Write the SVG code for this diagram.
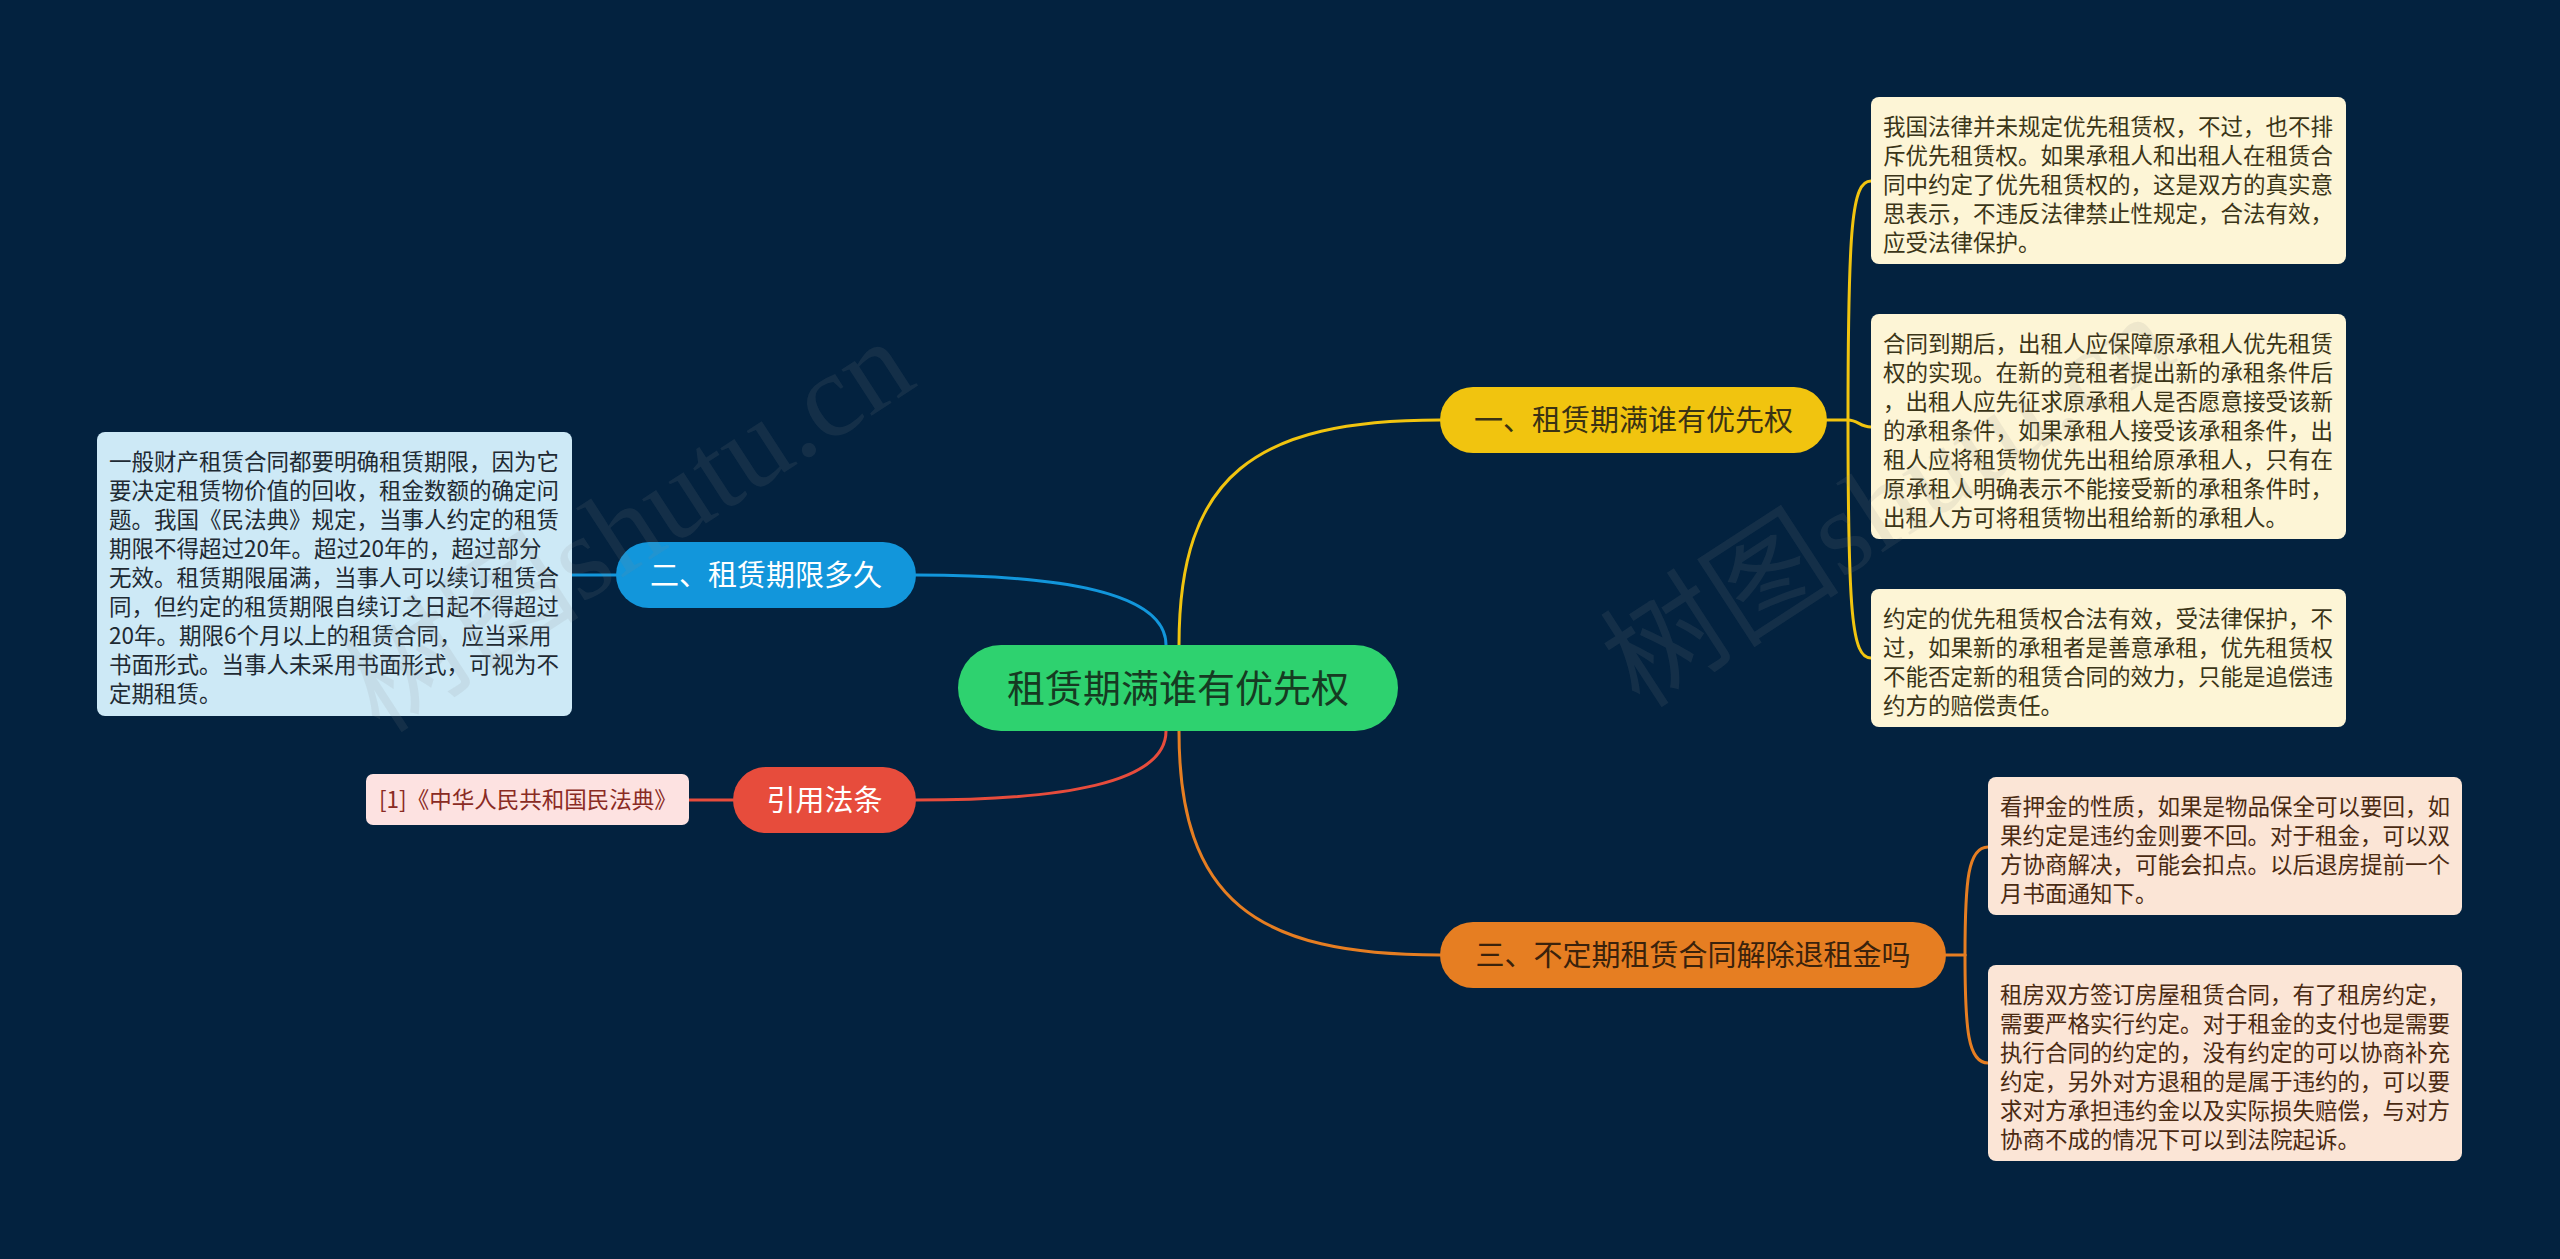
<svg xmlns="http://www.w3.org/2000/svg" width="2560" height="1259" viewBox="0 0 2560 1259">
<style>
.bg{fill:#03223f}
.leaf text, .pill text, .root text{font-family:"Noto Sans CJK SC","Noto Sans",sans-serif}
.leaf text{font-size:22.5px}
.pill text{font-size:29px;text-anchor:middle}
.ly rect{fill:#fdf5d6}
.ly text{fill:#3b3518}
.lo rect{fill:#fbe5d6}
.lo text{fill:#4a2a12}
.lb rect{fill:#cde9f6}
.lb text{fill:#1e2a33}
.lr rect{fill:#fde2e1}
.lr text{fill:#8a2b24}
.conn path{fill:none;stroke-width:3;stroke-linecap:round}
.cy{stroke:#f1c40f}
.co{stroke:#e67e22}
.cb{stroke:#1296db}
.cr{stroke:#e74c3c}
.wm{font-family:"Liberation Serif","Noto Sans CJK SC",serif;font-size:120px;fill:#8a8a8a;fill-opacity:0.13}
</style>
<rect class="bg" x="0" y="0" width="2560" height="1259"/>
<g id="connectors" class="conn">
  <path class="cy" d="M1179,645 C1179,475 1255,420 1440,420"/>
  <path class="co" d="M1179,731 C1179,900 1255,955 1440,955"/>
  <path class="cb" d="M916,575 C1060,575 1166,592 1166,645"/>
  <path class="cr" d="M916,800 C1060,800 1166,784 1166,731"/>
  <path class="cy" d="M1827,420 H1848"/>
  <path class="cy" d="M1848,420 C1848,225 1852,181 1871,181"/>
  <path class="cy" d="M1848,420 C1858,420 1860,427 1871,427"/>
  <path class="cy" d="M1848,420 C1848,615 1852,658 1871,658"/>
  <path class="co" d="M1946,955 H1965"/>
  <path class="co" d="M1965,955 C1965,880 1968,847 1988,847"/>
  <path class="co" d="M1965,955 C1965,1030 1968,1063 1988,1063"/>
  <path class="cb" d="M616,575 H572"/>
  <path class="cr" d="M733,800 H689"/>
</g>
<g id="root" class="root">
  <rect x="958" y="645" width="440" height="86" rx="43" fill="#2ed26f"/>
  <text x="1178" y="702" font-size="38" text-anchor="middle" fill="#163a22">租赁期满谁有优先权</text>
</g>
<g id="b1" class="pill">
  <rect x="1440" y="387" width="387" height="66" rx="33" fill="#f1c40f"/>
  <text x="1633.5" y="431" fill="#3a3214">一、租赁期满谁有优先权</text>
</g>
<g id="b2" class="pill">
  <rect x="616" y="542" width="300" height="66" rx="33" fill="#1296db"/>
  <text x="766" y="586" fill="#ffffff">二、租赁期限多久</text>
</g>
<g id="b3" class="pill">
  <rect x="1440" y="922" width="506" height="66" rx="33" fill="#e67e22"/>
  <text x="1693" y="966" fill="#3a220c">三、不定期租赁合同解除退租金吗</text>
</g>
<g id="b4" class="pill">
  <rect x="733" y="767" width="183" height="66" rx="33" fill="#e74c3c"/>
  <text x="824.5" y="811" fill="#ffffff">引用法条</text>
</g>
<g id="l1" class="leaf ly">
  <rect x="1871" y="97" width="475" height="167" rx="8"/>
  <text x="1883" y="135">我国法律并未规定优先租赁权，不过，也不排</text>
  <text x="1883" y="164">斥优先租赁权。如果承租人和出租人在租赁合</text>
  <text x="1883" y="193">同中约定了优先租赁权的，这是双方的真实意</text>
  <text x="1883" y="222">思表示，不违反法律禁止性规定，合法有效，</text>
  <text x="1883" y="251">应受法律保护。</text>
</g>
<g id="l2" class="leaf ly">
  <rect x="1871" y="314" width="475" height="225" rx="8"/>
  <text x="1883" y="352">合同到期后，出租人应保障原承租人优先租赁</text>
  <text x="1883" y="381">权的实现。在新的竞租者提出新的承租条件后</text>
  <text x="1883" y="410">，出租人应先征求原承租人是否愿意接受该新</text>
  <text x="1883" y="439">的承租条件，如果承租人接受该承租条件，出</text>
  <text x="1883" y="468">租人应将租赁物优先出租给原承租人，只有在</text>
  <text x="1883" y="497">原承租人明确表示不能接受新的承租条件时，</text>
  <text x="1883" y="526">出租人方可将租赁物出租给新的承租人。</text>
</g>
<g id="l3" class="leaf ly">
  <rect x="1871" y="589" width="475" height="138" rx="8"/>
  <text x="1883" y="627">约定的优先租赁权合法有效，受法律保护，不</text>
  <text x="1883" y="656">过，如果新的承租者是善意承租，优先租赁权</text>
  <text x="1883" y="685">不能否定新的租赁合同的效力，只能是追偿违</text>
  <text x="1883" y="714">约方的赔偿责任。</text>
</g>
<g id="l4" class="leaf lo">
  <rect x="1988" y="777" width="474" height="138" rx="8"/>
  <text x="2000" y="815">看押金的性质，如果是物品保全可以要回，如</text>
  <text x="2000" y="844">果约定是违约金则要不回。对于租金，可以双</text>
  <text x="2000" y="873">方协商解决，可能会扣点。以后退房提前一个</text>
  <text x="2000" y="902">月书面通知下。</text>
</g>
<g id="l5" class="leaf lo">
  <rect x="1988" y="965" width="474" height="196" rx="8"/>
  <text x="2000" y="1003">租房双方签订房屋租赁合同，有了租房约定，</text>
  <text x="2000" y="1032">需要严格实行约定。对于租金的支付也是需要</text>
  <text x="2000" y="1061">执行合同的约定的，没有约定的可以协商补充</text>
  <text x="2000" y="1090">约定，另外对方退租的是属于违约的，可以要</text>
  <text x="2000" y="1119">求对方承担违约金以及实际损失赔偿，与对方</text>
  <text x="2000" y="1148">协商不成的情况下可以到法院起诉。</text>
</g>
<g id="l6" class="leaf lb">
  <rect x="97" y="432" width="475" height="284" rx="8"/>
  <text x="109" y="470">一般财产租赁合同都要明确租赁期限，因为它</text>
  <text x="109" y="499">要决定租赁物价值的回收，租金数额的确定问</text>
  <text x="109" y="528">题。我国《民法典》规定，当事人约定的租赁</text>
  <text x="109" y="557">期限不得超过20年。超过20年的，超过部分</text>
  <text x="109" y="586">无效。租赁期限届满，当事人可以续订租赁合</text>
  <text x="109" y="615">同，但约定的租赁期限自续订之日起不得超过</text>
  <text x="109" y="644">20年。期限6个月以上的租赁合同，应当采用</text>
  <text x="109" y="673">书面形式。当事人未采用书面形式，可视为不</text>
  <text x="109" y="702">定期租赁。</text>
</g>
<g id="l7" class="leaf lr">
  <rect x="366" y="774" width="323" height="51" rx="7"/>
  <text x="379" y="808">[1]《中华人民共和国民法典》</text>
</g>
<g id="watermark">
  <text class="wm" transform="translate(380,735) rotate(-33)">树图shutu.cn</text>
  <text class="wm" transform="translate(1640,710) rotate(-33)">树图shutu.cn</text>
</g>
</svg>
